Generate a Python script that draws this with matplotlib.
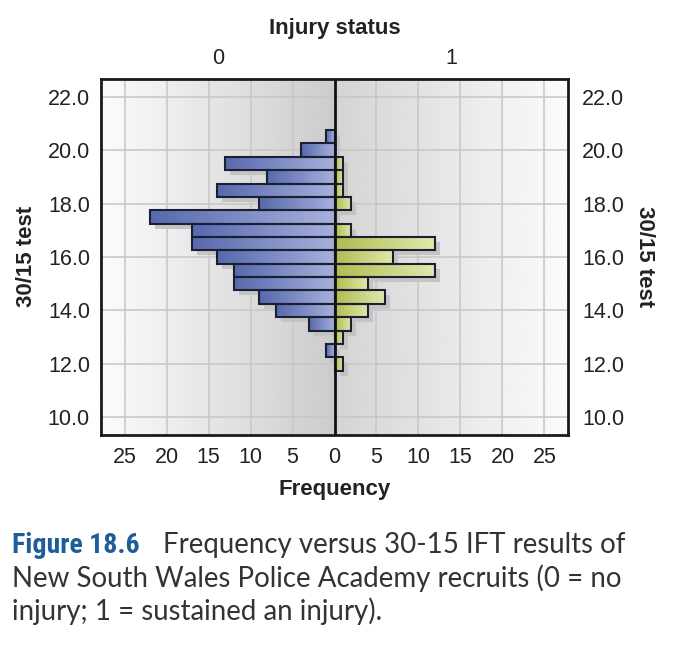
import matplotlib
matplotlib.use('Agg')
import matplotlib.pyplot as plt
import numpy as np
from matplotlib import font_manager
from matplotlib.font_manager import FontProperties
from matplotlib.transforms import ScaledTranslation
from matplotlib.colors import LinearSegmentedColormap

# ---------------- data ----------------
test_bins = [20.5, 20.0, 19.5, 19.0, 18.5, 18.0, 17.5, 17.0, 16.5,
             16.0, 15.5, 15.0, 14.5, 14.0, 13.5, 13.0, 12.5, 12.0]
freq_no_injury = [1, 4, 13, 8, 14, 9, 22, 17, 17, 14, 12, 12, 9, 7, 3, 0, 1, 0]
freq_injury = [0, 0, 1, 1, 1, 2, 0, 2, 12, 7, 12, 4, 6, 4, 2, 1, 0, 1]
y_ticks = [10, 12, 14, 16, 18, 20, 22]
x_ticks = [-25, -20, -15, -10, -5, 0, 5, 10, 15, 20, 25]
x_tick_labels = ['25', '20', '15', '10', '5', '0', '5', '10', '15', '20', '25']
status_labels = ['0', '1']
caption_head = 'Figure 18.6'
caption_lines = ['Frequency versus 30-15 IFT results of',
                 'New South Wales Police Academy recruits (0 = no',
                 'injury; 1 = sustained an injury).']


def has_font(name):
    try:
        font_manager.findfont(FontProperties(family=name),
                              fallback_to_default=False)
        return True
    except Exception:
        return False


def condensed_props():
    for fam in ['Liberation Sans Narrow', 'Roboto Condensed',
                'Open Sans Condensed', 'Noto Sans Condensed',
                'DejaVu Sans Condensed']:
        if has_font(fam):
            return dict(family=fam)
    for fam in ['Noto Sans', 'Open Sans', 'Roboto', 'DejaVu Sans']:
        try:
            p = font_manager.findfont(
                FontProperties(family=fam, stretch='condensed', weight='bold'),
                fallback_to_default=False)
            if 'ondensed' in p or 'arrow' in p:
                return dict(family=fam, fontstretch='condensed')
        except Exception:
            pass
    return dict(family='Liberation Sans')


plt.rcParams['font.family'] = ['Liberation Sans', 'DejaVu Sans']
head_props = condensed_props()
body_font = 'Lato' if has_font('Lato') else 'Liberation Sans'

W, H, DPI = 676, 663, 100
fig = plt.figure(figsize=(W / DPI, H / DPI), dpi=DPI)
fig.patch.set_facecolor('white')

XL = 27.8
Y0, Y1 = 9.36, 22.66
ax = fig.add_axes([101 / W, 1 - 434.5 / H, 467 / W, (434.5 - 79) / H])

# background gradient
bg = np.concatenate([np.linspace(0.985, 0.80, 256),
                     np.linspace(0.83, 0.985, 256)]).reshape(1, -1)
ax.imshow(bg, cmap='gray', vmin=0, vmax=1, extent=(-XL, XL, Y0, Y1),
          aspect='auto', zorder=0, interpolation='bilinear')

BH = 0.5
edge = '#1b1f33'
grad = np.linspace(0, 1, 256).reshape(1, -1)


def draw_side(ys, widths, sign, c0, c1):
    ys = [y for y, w in zip(ys, widths) if w > 0]
    vals = [sign * w for w in widths if w > 0]
    off = ScaledTranslation(5 / DPI, -5 / DPI, fig.dpi_scale_trans)
    ax.barh(ys, vals, height=BH, color='#c4c4c4', lw=0, zorder=1,
            transform=ax.transData + off)
    bars = ax.barh(ys, vals, height=BH, facecolor='none', edgecolor=edge,
                   lw=1.5, zorder=3)
    cmap = LinearSegmentedColormap.from_list('g', [c0, c1])
    for p in bars.patches:
        x0, w, y0, h = p.get_x(), p.get_width(), p.get_y(), p.get_height()
        xa, xb = min(x0, x0 + w), max(x0, x0 + w)
        im = ax.imshow(grad, cmap=cmap, extent=(xa, xb, y0, y0 + h),
                       aspect='auto', zorder=2, interpolation='bilinear')
        im.set_clip_path(p)


draw_side(test_bins, freq_no_injury, -1, '#5769ad', '#a7b1dd')
draw_side(test_bins, freq_injury, 1, '#b1bc50', '#e2e8ad')

ax.axvline(0, color='#111111', lw=2, zorder=4)

TICK_FS = 15.5
ax.set_xlim(-XL, XL)
ax.set_ylim(Y0, Y1)
ax.set_xticks(x_ticks)
ax.set_xticklabels(x_tick_labels)
ax.set_yticks(y_ticks)
ax.set_yticklabels([f'{v:.1f}' for v in y_ticks])
ax.set_axisbelow(True)
ax.grid(True, color='#c6c6c6', lw=1.1)
ax.tick_params(length=0, labelsize=TICK_FS, colors='#222222')
ax.tick_params(axis='x', pad=9)
ax.tick_params(axis='y', pad=8)
for s in ax.spines.values():
    s.set_linewidth(2)
    s.set_color('#1a1a1a')
ax.set_xlabel('Frequency', fontsize=16, fontweight='bold', labelpad=8, color='#222222')
ax.set_ylabel('30/15 test', fontsize=16, fontweight='bold', labelpad=8, color='#222222')

ax2 = ax.twiny()
ax2.set_xlim(-XL, XL)
ax2.set_xticks([-XL / 2, XL / 2])
ax2.set_xticklabels(status_labels)
ax2.tick_params(length=0, labelsize=TICK_FS, pad=7, colors='#222222')
ax2.set_xlabel('Injury status', fontsize=16, fontweight='bold', labelpad=10, color='#222222')
for s in ax2.spines.values():
    s.set_visible(False)

ax3 = ax.twinx()
ax3.set_ylim(Y0, Y1)
ax3.set_yticks(y_ticks)
ax3.set_yticklabels([f'{v:.1f}' for v in y_ticks])
ax3.tick_params(length=0, labelsize=TICK_FS, pad=10, colors='#222222')
ax3.set_ylabel('30/15 test', fontsize=16, fontweight='bold', rotation=-90,
               labelpad=22, color='#222222')
for s in ax3.spines.values():
    s.set_visible(False)

# ---------------- caption ----------------
renderer = fig.canvas.get_renderer()


def fit_size(text, props, target):
    t = fig.text(0, 0, text, fontsize=10, **props)
    w = t.get_window_extent(renderer).width
    t.remove()
    return 10 * target / w


head_kw = dict(head_props, fontweight='bold')
head_size = min(fit_size(caption_head, head_kw, 128), 21)
body_size = fit_size(caption_lines[1], dict(family=body_font), 608)

baselines = [553, 587, 620]
fig.text(12 / W, 1 - baselines[0] / H, caption_head, fontsize=head_size,
         color='#1f5c9c', va='baseline', **head_kw)
fig.text(163 / W, 1 - baselines[0] / H, caption_lines[0], fontsize=body_size,
         family=body_font, color='#333333', va='baseline')
for line, b in zip(caption_lines[1:], baselines[1:]):
    fig.text(12 / W, 1 - b / H, line, fontsize=body_size, family=body_font,
             color='#333333', va='baseline')

fig.savefig('out.png', dpi=DPI)
